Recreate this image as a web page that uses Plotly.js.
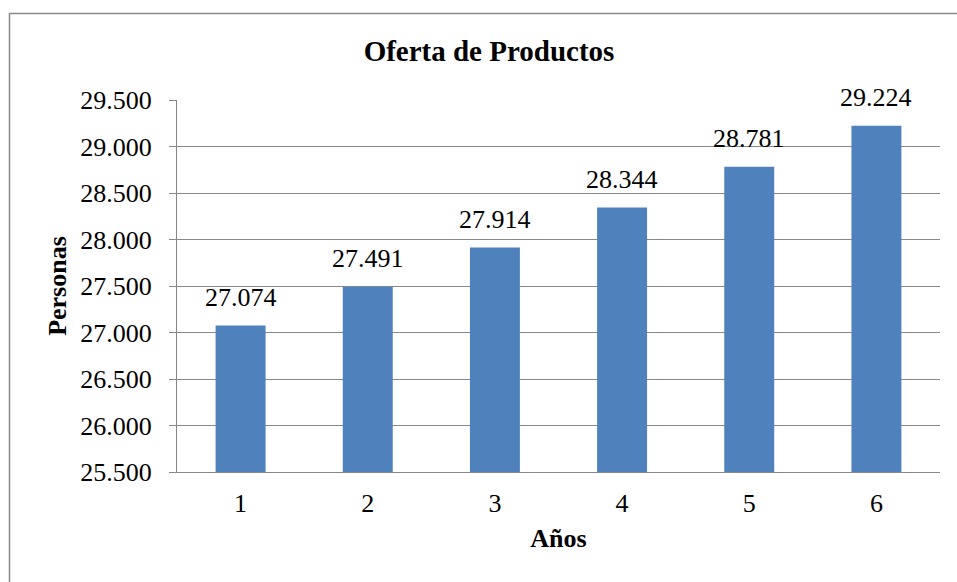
<!DOCTYPE html>
<html>
<head>
<meta charset="utf-8">
<script src="https://cdn.plot.ly/plotly-3.0.1.min.js"></script>
<style>html,body{margin:0;padding:0;background:#fff;}#chart{width:957px;height:582px;}</style>
</head>
<body>
<div id="chart"></div>
<script>
const years = ['1', '2', '3', '4', '5', '6'];
const personas = [27074, 27491, 27914, 28344, 28781, 29224];
const chartTitle = 'Oferta de Productos';
const xTitle = 'Años';
const yTitle = 'Personas';

const font = 'Liberation Serif, Times New Roman, serif';
const W = 957, H = 582;
const m = {l: 177, r: 17, t: 100, b: 110};
const pw = W - m.l - m.r, ph = H - m.t - m.b;
const px = v => (v - m.l) / pw;
const py = v => (H - m.b - v) / ph;
const fmt = v => v.toLocaleString('de-DE');

Plotly.newPlot('chart', [{
  type: 'bar',
  x: years,
  y: personas,
  marker: {color: '#4F81BD'},
  hoverinfo: 'none'
}], {
  width: W, height: H,
  margin: m,
  separators: ',.',
  paper_bgcolor: '#fff', plot_bgcolor: '#fff',
  bargap: 0.607,
  showlegend: false,
  font: {family: font, color: '#000'},
  title: {text: '<b>' + chartTitle + '</b>', font: {family: font, size: 29, color: '#000'},
          xref: 'paper', x: (489 - m.l) / pw, xanchor: 'center', y: 1 - 51 / H, yanchor: 'middle'},
  xaxis: {
    type: 'category',
    range: [-0.5, years.length - 0.5], autorange: false,
    showgrid: false, zeroline: false,
    showline: true, linecolor: '#888', linewidth: 1,
    ticks: '', ticklabelstandoff: 8,
    tickfont: {family: font, size: 26, color: '#000'},
    title: {text: '<b>' + xTitle + '</b>', font: {family: font, size: 26, color: '#000'}, standoff: 11}
  },
  yaxis: {
    range: [25500, 29500], dtick: 500, tick0: 25500,
    tickformat: ',.0f',
    showgrid: true, gridcolor: '#888', gridwidth: 1,
    zeroline: false,
    showline: true, linecolor: '#888', linewidth: 1,
    ticks: 'outside', ticklen: 7, tickcolor: '#888',
    ticklabelstandoff: 12,
    tickfont: {family: font, size: 26, color: '#000'},
    title: {text: '<b>' + yTitle + '</b>', font: {family: font, size: 26, color: '#000'}, standoff: 6}
  },
  annotations: personas.map((v, i) => ({
    x: i, y: v, xref: 'x', yref: 'y',
    text: fmt(v), showarrow: false,
    yanchor: 'bottom', xanchor: 'center', yshift: 12,
    font: {family: font, size: 26, color: '#000'}
  })),
  shapes: [{
    type: 'rect', xref: 'paper', yref: 'paper',
    x0: px(9.5), x1: px(W + 10), y0: py(13.5), y1: py(H + 10),
    line: {color: '#888', width: 1.5}, fillcolor: 'rgba(0,0,0,0)', layer: 'below'
  }]
}, {displayModeBar: false, staticPlot: true});
</script>
</body>
</html>
